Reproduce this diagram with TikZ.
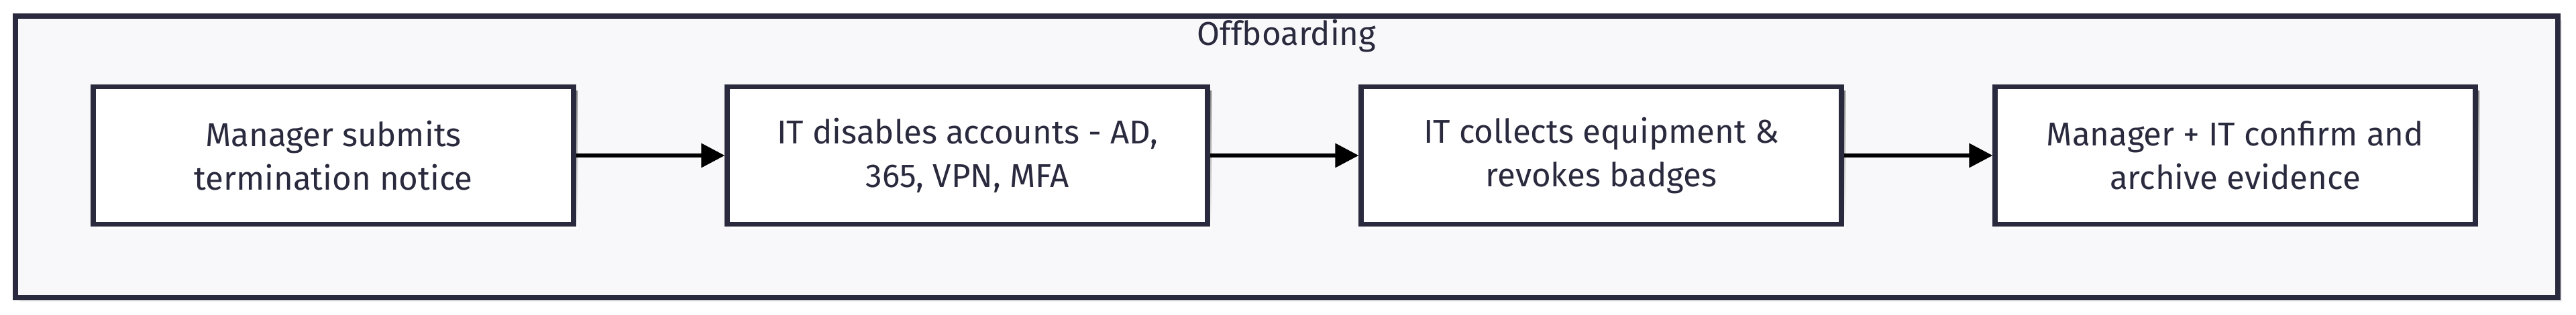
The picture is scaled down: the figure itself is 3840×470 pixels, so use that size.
\documentclass[tikz,border=0pt]{standalone}
\usepackage{fontspec}
\setmainfont{Fira Sans}
\usetikzlibrary{arrows.meta,positioning}
\definecolor{ink}{HTML}{2A2A3E}
\definecolor{lane}{HTML}{F8F8FA}
\definecolor{shade}{HTML}{E6E6EA}
\tikzset{stepbox/.style={
  draw=ink,
  fill=white,
  line width=2.2pt,
  minimum width=7.15cm,
  minimum height=2.05cm,
  align=center,
  font=\fontsize{14}{18.5}\selectfont,
  text=ink}}
\tikzset{flow/.style={
  -{Triangle[length=10pt,width=10pt]},
  line width=1.8pt,
  black}}

\begin{document}
\begin{tikzpicture}[x=0.01cm,y=-0.01cm]
  \useasboundingbox (0,0) rectangle (3840,470);

  %% Lane frame with its shadow
  \fill[shade!70] (29,30) rectangle (3819,450);
  \draw[ink,fill=lane,line width=2.4pt] (23,24) rectangle (3813,444);
  \node[text=ink,font=\fontsize{14}{18}\selectfont] (title) at (1918,54) {Offboarding};

  %% Steps
  \foreach \nm/\cx in {submit/497,disable/1442,collect/2387,confirm/3332}{
    \fill[shade] (\cx-352,136) rectangle (\cx+364,341);
  }
  \node[stepbox] (submit) at (497,232) {Manager submits\\termination notice};
  \node[stepbox] (disable) at (1442,232) {IT disables accounts - AD,\\365, VPN, MFA};
  \node[stepbox] (collect) at (2387,232) {IT collects equipment \&\\revokes badges};
  \node[stepbox] (confirm) at (3332,232) {Manager + IT confirm and\\archive evidence};

  %% Connectors
  \draw[flow] (submit) -- (disable);
  \draw[flow] (disable) -- (collect);
  \draw[flow] (collect) -- (confirm);
\end{tikzpicture}
\end{document}
